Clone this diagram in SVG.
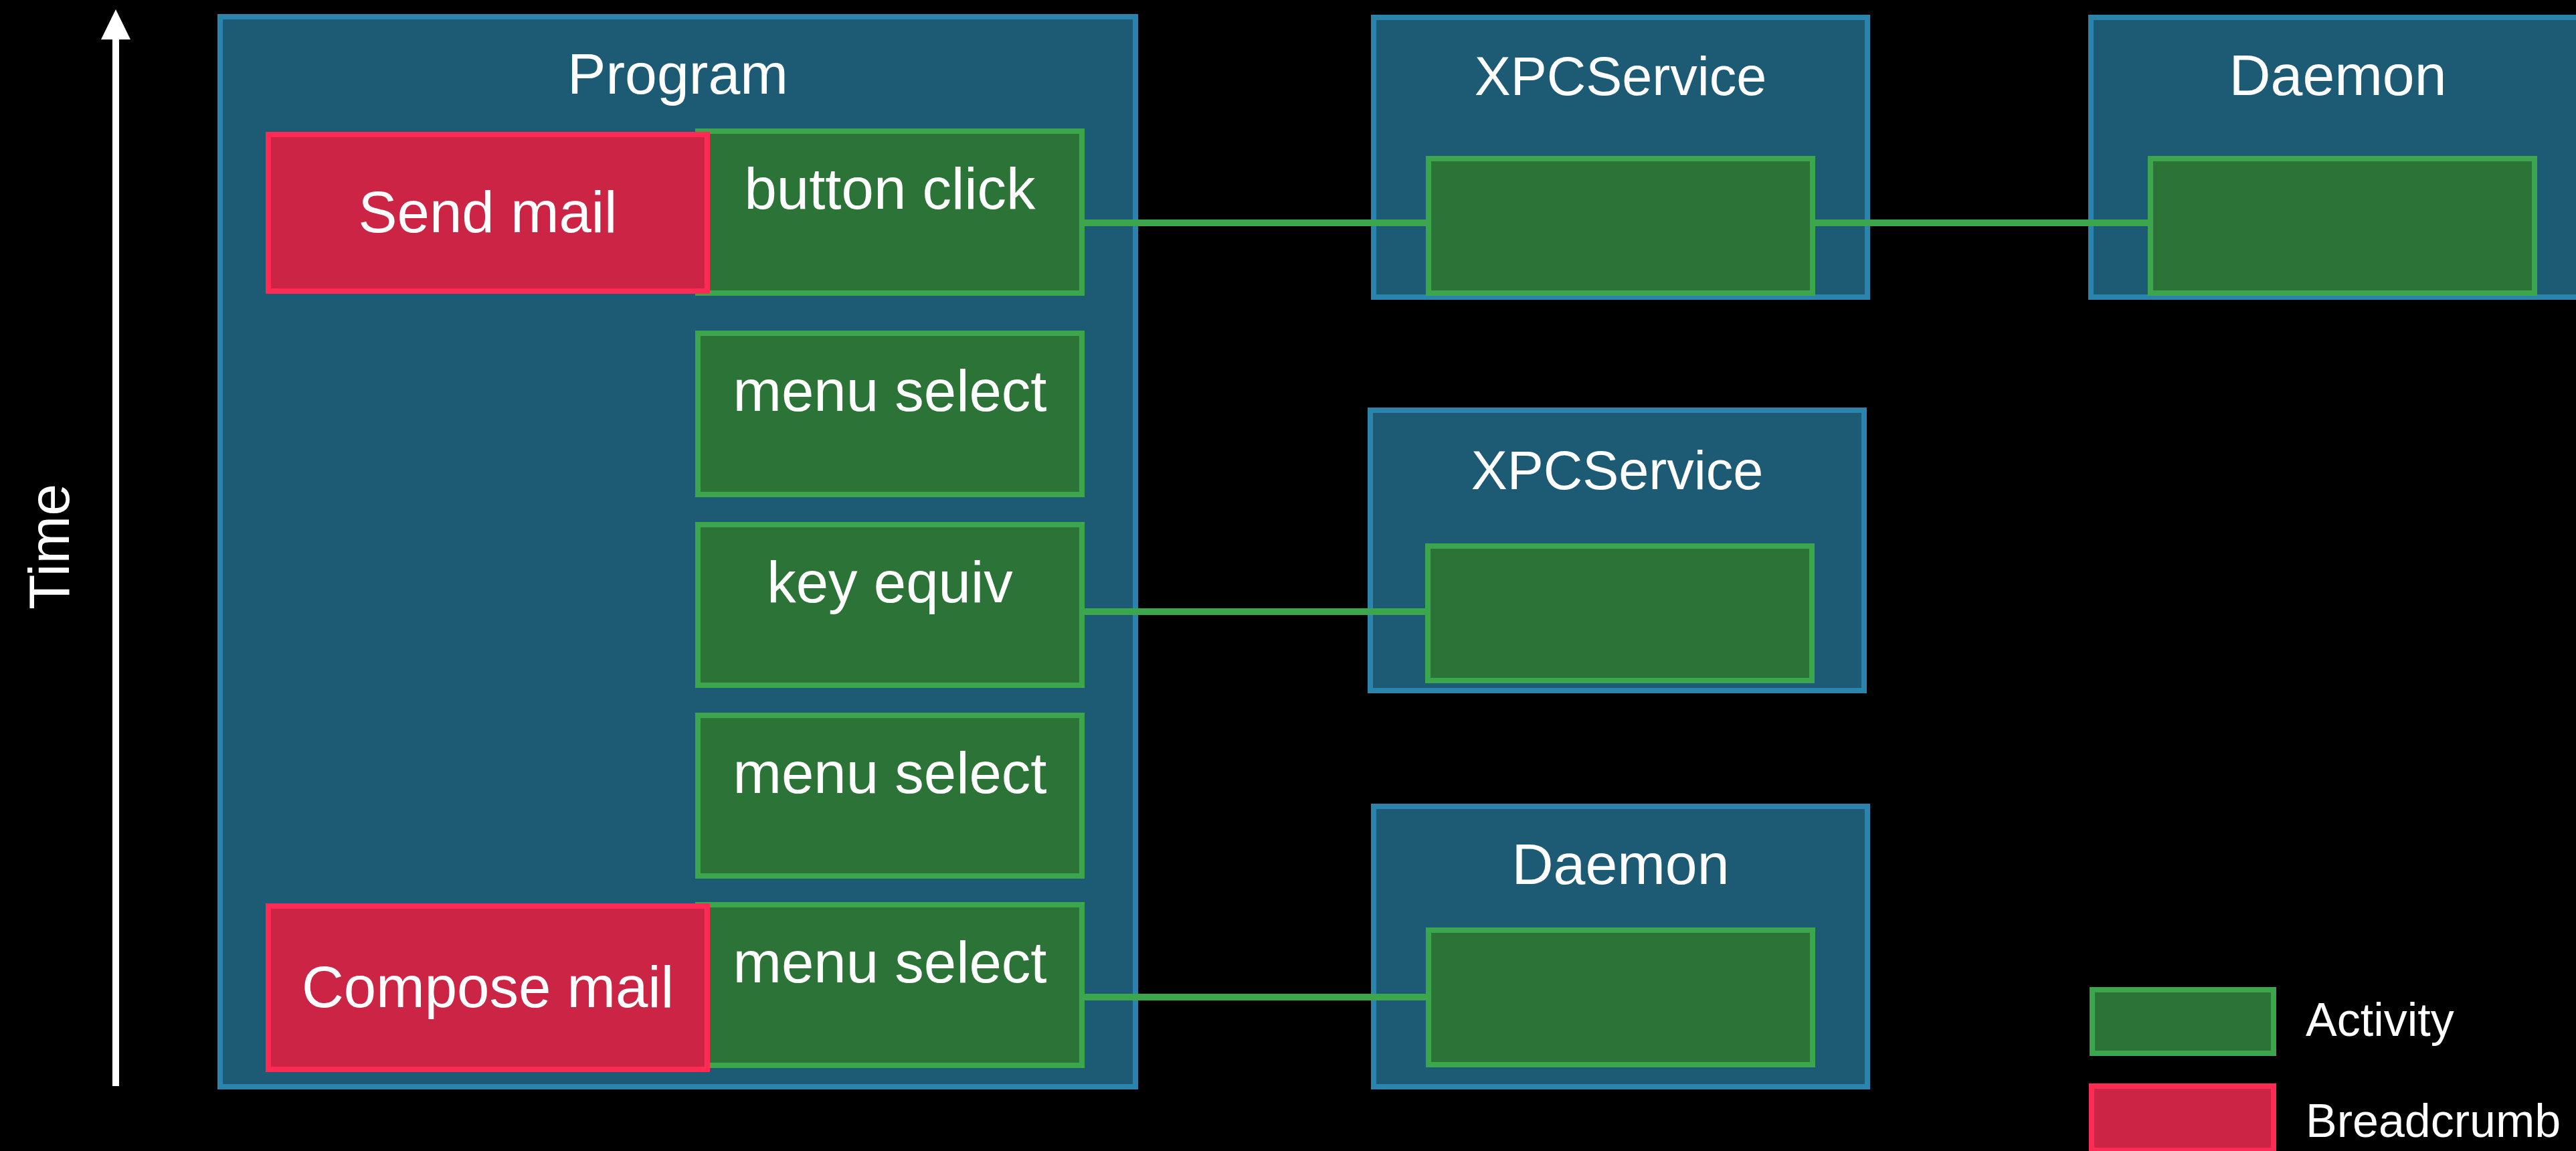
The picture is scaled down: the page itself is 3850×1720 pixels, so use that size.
<svg xmlns="http://www.w3.org/2000/svg" width="3850" height="1720" viewBox="0 0 3850 1720">
  <style>
    text { font-family: "Liberation Sans", Arial, sans-serif; fill: #ffffff; }
    .proc { fill: #1D5B75; stroke: #2B84AC; stroke-width: 8; }
    .act { fill: #2C7337; stroke: #3BA64B; stroke-width: 8; }
    .crumb { fill: #CC2444; stroke: #FF2B55; stroke-width: 8; }
    .conn { stroke: #3BA64B; stroke-width: 10; fill: none; }
    .ttl { font-size: 86px; text-anchor: middle; }
    .xpc { font-size: 81px; }
    .lbl { font-size: 87px; text-anchor: middle; }
    .leg { font-size: 70px; }
  </style>
  <rect x="0" y="0" width="3850" height="1720" fill="#000000"/>

  <g id="time-axis">
    <rect x="168" y="56" width="10" height="1567" fill="#ffffff"/>
    <polygon points="173,14 151,59 195,59" fill="#ffffff"/>
    <text class="ttl" transform="translate(103,817) rotate(-90)" x="0" y="0">Time</text>
  </g>

  <g id="program">
    <rect class="proc" x="329" y="25" width="1368" height="1599"/>
    <text class="ttl" x="1013" y="140">Program</text>
  </g>

  <g id="act-button-click">
    <rect class="act" x="1043" y="196" width="574" height="242"/>
    <text class="lbl" x="1330" y="312">button click</text>
  </g>
  <g id="crumb-send-mail">
    <rect class="crumb" x="401" y="201" width="656" height="234"/>
    <text class="lbl" x="729" y="347">Send mail</text>
  </g>
  <g id="act-menu-select-1">
    <rect class="act" x="1043" y="498" width="574" height="241"/>
    <text class="lbl" x="1330" y="614">menu select</text>
  </g>
  <g id="act-key-equiv">
    <rect class="act" x="1043" y="784" width="574" height="240"/>
    <text class="lbl" x="1330" y="900">key equiv</text>
  </g>
  <g id="act-menu-select-2">
    <rect class="act" x="1043" y="1069" width="574" height="240"/>
    <text class="lbl" x="1330" y="1185">menu select</text>
  </g>
  <g id="act-menu-select-3">
    <rect class="act" x="1043" y="1352" width="574" height="240"/>
    <text class="lbl" x="1330" y="1468">menu select</text>
  </g>
  <g id="crumb-compose-mail">
    <rect class="crumb" x="401" y="1354" width="656" height="244"/>
    <text class="lbl" x="729" y="1505">Compose mail</text>
  </g>

  <g id="xpcservice-1">
    <rect class="proc" x="2053" y="26" width="738" height="418"/>
    <text class="ttl xpc" x="2422" y="142">XPCService</text>
    <rect class="act" x="2135" y="237" width="574" height="201"/>
  </g>
  <g id="daemon-1">
    <rect class="proc" x="3125" y="26" width="738" height="418"/>
    <text class="ttl" x="3494" y="142">Daemon</text>
    <rect class="act" x="3214" y="237" width="574" height="201"/>
  </g>
  <g id="xpcservice-2">
    <rect class="proc" x="2048" y="613" width="738" height="419"/>
    <text class="ttl xpc" x="2417" y="731">XPCService</text>
    <rect class="act" x="2134" y="816" width="574" height="201"/>
  </g>
  <g id="daemon-2">
    <rect class="proc" x="2053" y="1205" width="738" height="419"/>
    <text class="ttl" x="2422" y="1321">Daemon</text>
    <rect class="act" x="2135" y="1390" width="574" height="201"/>
  </g>

  <g id="connectors">
    <line class="conn" x1="1621" y1="333" x2="2131" y2="333"/>
    <line class="conn" x1="2713" y1="333" x2="3210" y2="333"/>
    <line class="conn" x1="1621" y1="914" x2="2130" y2="914"/>
    <line class="conn" x1="1621" y1="1490" x2="2131" y2="1490"/>
  </g>

  <g id="legend">
    <rect class="act" x="3127" y="1479" width="271" height="95"/>
    <text class="leg" x="3446" y="1548">Activity</text>
    <rect class="crumb" x="3126" y="1623" width="272" height="96"/>
    <text class="leg" x="3446" y="1699">Breadcrumb</text>
  </g>
</svg>
